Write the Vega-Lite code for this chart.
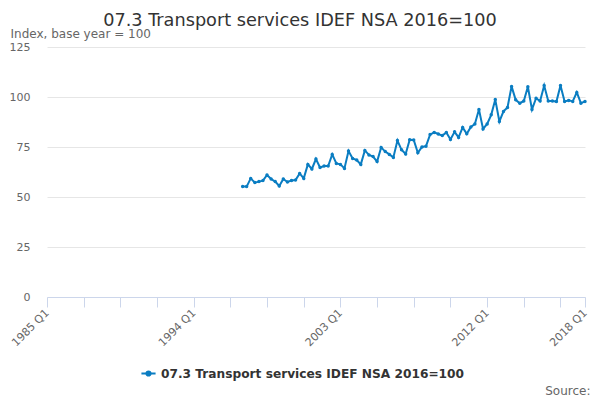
{
  "$schema": "https://vega.github.io/schema/vega-lite/v6.json",
  "width": 538,
  "height": 250,
  "autosize": {"type": "none"},
  "padding": {"left": 47, "top": 47, "right": 15, "bottom": 103},
  "background": "#ffffff",
  "title": {
    "text": "07.3 Transport services IDEF NSA 2016=100",
    "font": "DejaVu Sans",
    "fontSize": 17.7,
    "fontWeight": "normal",
    "color": "#333333",
    "anchor": "middle",
    "frame": "group",
    "dx": -16,
    "dy": 7
  },
  "config": {
    "font": "DejaVu Sans",
    "view": {"stroke": null}
  },
  "data": {
    "values": [
      {"date": "1997-01-01", "value": 55.2},
      {"date": "1997-04-01", "value": 55.2},
      {"date": "1997-07-01", "value": 59.3},
      {"date": "1997-10-01", "value": 57.2},
      {"date": "1998-01-01", "value": 57.7},
      {"date": "1998-04-01", "value": 58.2},
      {"date": "1998-07-01", "value": 61.0},
      {"date": "1998-10-01", "value": 59.0},
      {"date": "1999-01-01", "value": 57.7},
      {"date": "1999-04-01", "value": 55.5},
      {"date": "1999-07-01", "value": 59.0},
      {"date": "1999-10-01", "value": 57.5},
      {"date": "2000-01-01", "value": 58.2},
      {"date": "2000-04-01", "value": 58.5},
      {"date": "2000-07-01", "value": 61.8},
      {"date": "2000-10-01", "value": 59.3},
      {"date": "2001-01-01", "value": 66.3},
      {"date": "2001-04-01", "value": 64.0},
      {"date": "2001-07-01", "value": 69.0},
      {"date": "2001-10-01", "value": 64.8},
      {"date": "2002-01-01", "value": 65.5},
      {"date": "2002-04-01", "value": 65.5},
      {"date": "2002-07-01", "value": 71.3},
      {"date": "2002-10-01", "value": 66.8},
      {"date": "2003-01-01", "value": 66.3},
      {"date": "2003-04-01", "value": 64.3},
      {"date": "2003-07-01", "value": 73.0},
      {"date": "2003-10-01", "value": 69.3},
      {"date": "2004-01-01", "value": 68.5},
      {"date": "2004-04-01", "value": 66.3},
      {"date": "2004-07-01", "value": 73.3},
      {"date": "2004-10-01", "value": 71.0},
      {"date": "2005-01-01", "value": 70.2},
      {"date": "2005-04-01", "value": 67.7},
      {"date": "2005-07-01", "value": 74.8},
      {"date": "2005-10-01", "value": 72.7},
      {"date": "2006-01-01", "value": 71.3},
      {"date": "2006-04-01", "value": 69.8},
      {"date": "2006-07-01", "value": 78.2},
      {"date": "2006-10-01", "value": 73.6},
      {"date": "2007-01-01", "value": 71.5},
      {"date": "2007-04-01", "value": 78.6},
      {"date": "2007-07-01", "value": 78.5},
      {"date": "2007-10-01", "value": 72.1},
      {"date": "2008-01-01", "value": 75.0},
      {"date": "2008-04-01", "value": 75.4},
      {"date": "2008-07-01", "value": 81.2},
      {"date": "2008-10-01", "value": 82.3},
      {"date": "2009-01-01", "value": 81.5},
      {"date": "2009-04-01", "value": 80.7},
      {"date": "2009-07-01", "value": 82.3},
      {"date": "2009-10-01", "value": 78.8},
      {"date": "2010-01-01", "value": 82.6},
      {"date": "2010-04-01", "value": 79.8},
      {"date": "2010-07-01", "value": 84.8},
      {"date": "2010-10-01", "value": 81.6},
      {"date": "2011-01-01", "value": 85.0},
      {"date": "2011-04-01", "value": 86.5},
      {"date": "2011-07-01", "value": 93.8},
      {"date": "2011-10-01", "value": 84.0},
      {"date": "2012-01-01", "value": 86.5},
      {"date": "2012-04-01", "value": 91.1},
      {"date": "2012-07-01", "value": 98.7},
      {"date": "2012-10-01", "value": 87.8},
      {"date": "2013-01-01", "value": 92.8},
      {"date": "2013-04-01", "value": 94.8},
      {"date": "2013-07-01", "value": 105.3},
      {"date": "2013-10-01", "value": 98.6},
      {"date": "2014-01-01", "value": 96.9},
      {"date": "2014-04-01", "value": 98.0},
      {"date": "2014-07-01", "value": 105.1},
      {"date": "2014-10-01", "value": 93.8},
      {"date": "2015-01-01", "value": 99.4},
      {"date": "2015-04-01", "value": 98.0},
      {"date": "2015-07-01", "value": 105.7},
      {"date": "2015-10-01", "value": 98.0},
      {"date": "2016-01-01", "value": 98.0},
      {"date": "2016-04-01", "value": 97.7},
      {"date": "2016-07-01", "value": 105.7},
      {"date": "2016-10-01", "value": 97.7},
      {"date": "2017-01-01", "value": 98.3},
      {"date": "2017-04-01", "value": 97.8},
      {"date": "2017-07-01", "value": 102.3},
      {"date": "2017-10-01", "value": 96.9},
      {"date": "2018-01-01", "value": 97.8}
    ]
  },
  "mark": {
    "type": "line",
    "strokeWidth": 2,
    "point": {"filled": true, "size": 12}
  },
  "encoding": {
    "x": {
      "field": "date",
      "type": "temporal",
      "scale": {
        "type": "utc",
        "domain": [
          {"year": 1985, "month": 1, "date": 1, "utc": true},
          {"year": 2018, "month": 1, "date": 1, "utc": true}
        ]
      },
      "axis": {
        "title": "Source:",
        "titleFont": "DejaVu Sans",
        "titleFontSize": 12,
        "titleFontWeight": "normal",
        "titleColor": "#666666",
        "titleAlign": "right",
        "titleAnchor": "end",
        "titleBaseline": "alphabetic",
        "titleX": 543,
        "titleY": 97,
        "values": [
          {"year": 1985, "month": 1, "date": 1, "utc": true},
          {"year": 1987, "month": 4, "date": 1, "utc": true},
          {"year": 1989, "month": 7, "date": 1, "utc": true},
          {"year": 1991, "month": 10, "date": 1, "utc": true},
          {"year": 1994, "month": 1, "date": 1, "utc": true},
          {"year": 1996, "month": 4, "date": 1, "utc": true},
          {"year": 1998, "month": 7, "date": 1, "utc": true},
          {"year": 2000, "month": 10, "date": 1, "utc": true},
          {"year": 2003, "month": 1, "date": 1, "utc": true},
          {"year": 2005, "month": 4, "date": 1, "utc": true},
          {"year": 2007, "month": 7, "date": 1, "utc": true},
          {"year": 2009, "month": 10, "date": 1, "utc": true},
          {"year": 2012, "month": 1, "date": 1, "utc": true},
          {"year": 2014, "month": 4, "date": 1, "utc": true},
          {"year": 2016, "month": 7, "date": 1, "utc": true},
          {"year": 2018, "month": 1, "date": 1, "utc": true}
        ],
        "labelExpr": "indexof([1985, 1994, 2003, 2012, 2018], utcyear(datum.value)) >= 0 && utcmonth(datum.value) == 0 ? utcyear(datum.value) + ' Q1' : ''",
        "labelAngle": -45,
        "labelAlign": "right",
        "labelBaseline": "middle",
        "labelFontSize": 11,
        "labelColor": "#666666",
        "labelPadding": 4,
        "labelOverlap": false,
        "labelBound": false,
        "labelFlush": false,
        "grid": false,
        "tickColor": "#ccd6eb",
        "tickSize": 10,
        "domainColor": "#ccd6eb"
      }
    },
    "y": {
      "field": "value",
      "type": "quantitative",
      "scale": {"domain": [0, 125]},
      "axis": {
        "title": "Index, base year = 100",
        "titleAngle": 0,
        "titleAlign": "left",
        "titleBaseline": "alphabetic",
        "titleX": -37,
        "titleY": -10,
        "titleFontSize": 12,
        "titleFontWeight": "normal",
        "titleColor": "#666666",
        "values": [0, 25, 50, 75, 100, 125],
        "labelFontSize": 11,
        "labelColor": "#666666",
        "labelPadding": 17,
        "ticks": false,
        "domain": false,
        "gridColor": "#e6e6e6"
      }
    },
    "color": {
      "datum": "07.3 Transport services IDEF NSA 2016=100",
      "scale": {"range": ["#0a7dc2"]},
      "legend": {
        "title": null,
        "orient": "none",
        "legendX": 93,
        "legendY": 318,
        "symbolType": "M-1,0H1M-0.3,0a0.3,0.3 0 1,0 0.6,0a0.3,0.3 0 1,0 -0.6,0",
        "symbolSize": 200,
        "symbolStrokeWidth": 2,
        "symbolFillColor": "#0a7dc2",
        "labelFontSize": 12.2,
        "labelFontWeight": "bold",
        "labelColor": "#333333",
        "labelLimit": 0
      }
    }
  }
}
